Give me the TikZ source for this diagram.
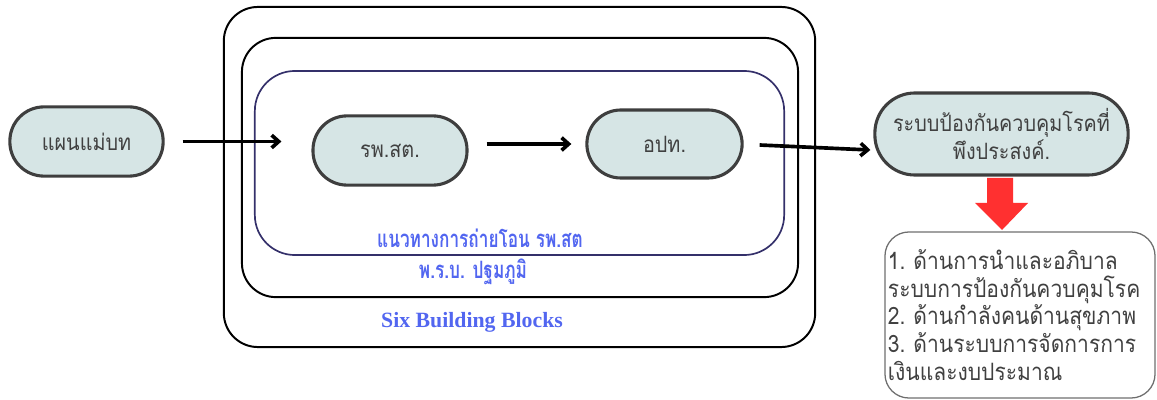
\documentclass[tikz,border=0pt]{standalone}
\usepackage{fontspec}
\usepackage{xcolor}
\usepackage{tikz}
\usetikzlibrary{arrows.meta, positioning, calc}
\newfontfamily\thaifont[Script=Thai, FakeStretch=0.88]{Loma}
\newfontfamily\thainarrow[Script=Thai, FakeStretch=0.72]{Loma}
\newfontfamily\serifbold{Liberation Serif}
\definecolor{pillfill}{RGB}{214,229,229}
\definecolor{pilldraw}{RGB}{62,62,62}
\definecolor{pilltext}{RGB}{64,64,64}
\definecolor{navyline}{RGB}{52,48,106}
\definecolor{labelblue}{RGB}{82,102,240}
\definecolor{listdraw}{RGB}{110,110,110}
\definecolor{bigred}{RGB}{255,48,48}
\tikzset{
  pill/.style={rectangle, draw=pilldraw, fill=pillfill, line width=2.2pt,
    rounded corners=0.85cm, align=center, text=pilltext,
    font=\thaifont\fontsize{16}{20}\selectfont},
  frame/.style={rectangle, draw=black, line width=1.4pt, rounded corners=0.85cm},
  innerframe/.style={rectangle, draw=navyline, line width=1.2pt, rounded corners=1cm},
  framelabel/.style={text=labelblue, font=\thainarrow\bfseries\fontsize{17}{20}\selectfont},
  flow/.style={-{Straight Barb[length=5pt,width=9pt]}, line width=2.6pt, color=black},
  listbox/.style={rectangle, draw=listdraw, line width=0.9pt, rounded corners=0.6cm,
    text width=6.6cm, align=left, inner sep=2pt, text=pilltext,
    font=\thaifont\fontsize{17}{19.8}\selectfont}
}
\begin{document}
\begin{tikzpicture}[x=0.025cm, y=-0.025cm]
  \useasboundingbox (0,0) rectangle (1157,400);

  % Nested frames
  \node[frame, minimum width=14.78cm, minimum height=8.5cm] (sixbb) at (519.5,177) {};
  \node[frame, minimum width=13.9cm, minimum height=6.48cm] (prb) at (520,167.5) {};
  \node[innerframe, minimum width=13.23cm, minimum height=4.6cm] (transfer) at (519.5,163) {};

  % Frame labels
  \node[framelabel] (transferlbl) at (480,238) {แนวทางการถ่ายโอน รพ.สต};
  \node[framelabel] (prblbl) at (473,272) {พ.ร.บ. ปฐมภูมิ};
  \node[text=labelblue, font=\serifbold\bfseries\fontsize{15.5}{18}\selectfont] (sixbblbl) at (472,322) {Six Building Blocks};

  % Flow nodes
  \node[pill, minimum width=3.83cm, minimum height=1.73cm] (plan) at (86.5,141.5) {แผนแม่บท};
  \node[pill, minimum width=3.85cm, minimum height=1.73cm] (rps) at (390,150.5) {รพ.สต.};
  \node[pill, minimum width=3.88cm, minimum height=1.7cm] (ao) at (664.5,144) {อปท.};
  \node[pill, minimum width=6.33cm, minimum height=2.05cm, rounded corners=1cm] (goal) at (1001.5,134) {ระบบป้องกันควบคุมโรคที่\\พึงประสงค์.};

  % Arrows between nodes
  \draw[flow, shorten <=0.45cm, shorten >=0.75cm] (plan.east) -- (plan.east -| rps.west);
  \draw[flow, shorten <=0.45cm, shorten >=0.35cm] (rps.east |- ao.west) -- (ao.west);
  \coordinate (aoout) at ($(ao.east)+(16,1)$);
  \coordinate (goalin) at ($(goal.west)+(-3,16)$);
  \draw[flow] (aoout) -- (goalin);

  % Outcome list
  \node[listbox, minimum width=6.75cm, minimum height=4.15cm] (list) at (1020,315)
    {1.~ด้านการนำและอภิบาล\\ระบบการป้องกันควบคุมโรค\\2.~ด้านกำลังคนด้านสุขภาพ\\3.~ด้านระบบการจัดการการ\\เงินและงบประมาณ};

  % Red block arrow
  \fill[bigred] (987,178) -- (1013,178) -- (1013,203) -- (1028,203) -- (1002,230)
    -- (975,203) -- (987,203) -- cycle;
\end{tikzpicture}
\end{document}
